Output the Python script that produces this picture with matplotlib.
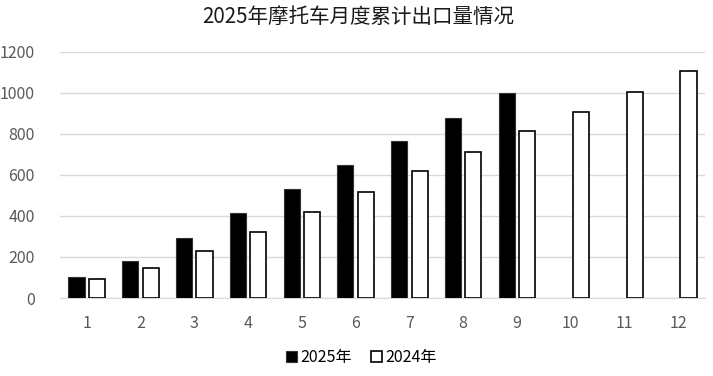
import matplotlib
matplotlib.use("Agg")
import matplotlib.pyplot as plt
import numpy as np

plt.rcParams['font.family'] = ['Noto Sans CJK SC', 'DejaVu Sans']

months = ['1', '2', '3', '4', '5', '6', '7', '8', '9', '10', '11', '12']
vals_2025 = [104, 181, 293, 413, 529, 649, 764, 877, 1000]
vals_2024 = [92, 146, 229, 321, 418, 516, 618, 710, 812, 906, 1002, 1105]
yticks = [0, 200, 400, 600, 800, 1000, 1200]
title = '2025年摩托车月度累计出口量情况'
labels = ['2025年', '2024年']

fig = plt.figure(figsize=(7.13, 3.76), dpi=100)
ax = fig.add_axes([0.084, 0.2074, 0.905, 0.655])

x = np.arange(len(months))
w = 0.3
off = 0.19
ax.bar(x[:len(vals_2025)] - off, vals_2025, width=w, color='black',
       edgecolor='#333333', linewidth=0.8, label=labels[0], zorder=3)
ax.bar(x + off, vals_2024, width=w, color='white', edgecolor='black',
       linewidth=1.2, label=labels[1], zorder=3)

ax.set_xlim(-0.5, len(months) - 0.5)
ax.set_ylim(0, 1200)
ax.set_yticks(yticks)
ax.set_yticklabels([str(t) for t in yticks])
ax.set_xticks(x)
ax.set_xticklabels(months)
ax.tick_params(axis='both', length=0, labelsize=11.5, colors='#595959')
ax.tick_params(axis='y', pad=18)
ax.tick_params(axis='x', pad=12)
ax.grid(axis='y', color='#d9d9d9', linewidth=1, zorder=0)
for s in ['top', 'right', 'left']:
    ax.spines[s].set_visible(False)
ax.spines['bottom'].set_color('#d9d9d9')

fig.text(0.503, 0.955, title, ha='center', va='center', fontsize=14.8, color='#1a1a1a')

leg = fig.legend(loc='center', bbox_to_anchor=(0.507, 0.05), ncol=2, frameon=False,
                 fontsize=11.5, handlelength=0.7, handleheight=0.7, handletextpad=0.2,
                 columnspacing=1.2)

fig.savefig('out.png', dpi=100)
